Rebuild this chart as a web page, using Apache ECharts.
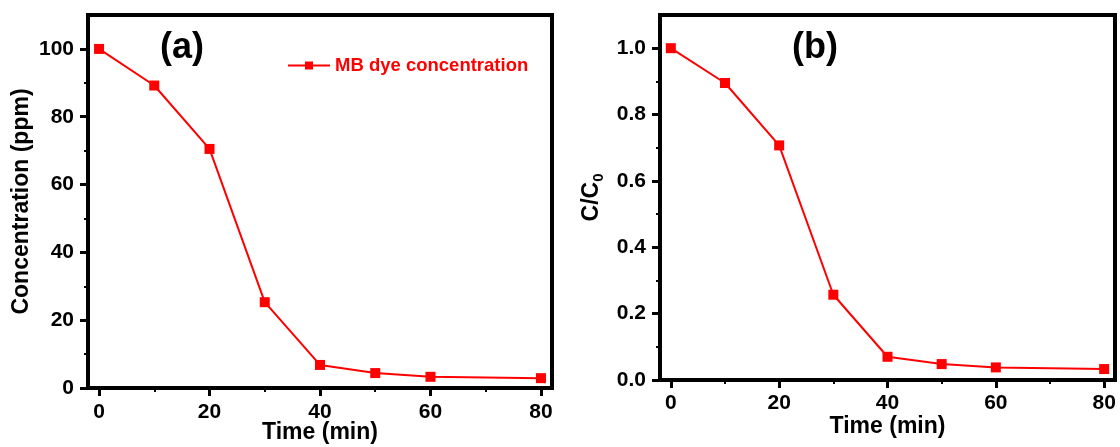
<!DOCTYPE html>
<html>
<head>
<meta charset="utf-8">
<script src="https://cdn.jsdelivr.net/npm/echarts@6/dist/echarts.min.js"></script>
<style>
html,body{margin:0;padding:0;background:#fff;}
#c{width:1120px;height:447px;}
</style>
</head>
<body>
<div id="c"></div>
<script>
// ---- data ----
const timeMin = [0, 10, 20, 30, 40, 50, 60, 80];
const concPpm = [100, 89.2, 70.5, 25.3, 6.8, 4.4, 3.3, 2.9];
const ratioCC0 = [1.0, 0.895, 0.707, 0.257, 0.070, 0.048, 0.038, 0.033];
const xTickVals = [0, 20, 40, 60, 80];
const xMinorVals = [10, 30, 50, 70];
const yTickValsA = [0, 20, 40, 60, 80, 100];
const yMinorValsA = [10, 30, 50, 70, 90];
const yTickValsB = [0, 0.2, 0.4, 0.6, 0.8, 1.0];
const yMinorValsB = [0.1, 0.3, 0.5, 0.7, 0.9];
const seriesName = 'MB dye concentration';

const FF = '"Liberation Sans", Arial, sans-serif';
const RED = '#ff0000';

function xMain(gi, margin, gap) {
  return {
    type: 'value', gridIndex: gi, min: -2, max: 82, position: 'bottom',
    axisLine: { show: true, onZero: false, lineStyle: { color: '#000', width: 4 } },
    axisTick: { show: true, customValues: xTickVals, length: 8, lineStyle: { color: '#000', width: 3 } },
    axisLabel: { customValues: xTickVals, margin: margin, fontSize: 21, fontWeight: 'bold', color: '#000', fontFamily: FF },
    splitLine: { show: false },
    name: 'Time (min)', nameLocation: 'middle', nameGap: gap, nameMoveOverlap: false,
    nameTextStyle: { fontSize: 23, fontWeight: 'bold', color: '#000', fontFamily: FF }
  };
}
function xMinor(gi) {
  return {
    type: 'value', gridIndex: gi, min: -2, max: 82, position: 'bottom',
    axisLine: { show: false, onZero: false },
    axisTick: { show: true, customValues: xMinorVals, length: 4, lineStyle: { color: '#000', width: 2 } },
    axisLabel: { show: false }, splitLine: { show: false }
  };
}
function yMain(gi, max, ticks, fmt, name, gap, rich) {
  const o = {
    type: 'value', gridIndex: gi, min: 0, max: max, position: 'left',
    axisLine: { show: true, onZero: false, lineStyle: { color: '#000', width: 4 } },
    axisTick: { show: true, customValues: ticks, length: 8, lineStyle: { color: '#000', width: 3 } },
    axisLabel: { customValues: ticks, margin: 14, fontSize: 21, fontWeight: 'bold', color: '#000', fontFamily: FF, formatter: fmt },
    splitLine: { show: false },
    name: name, nameLocation: 'middle', nameGap: gap,
    nameTextStyle: { fontSize: 23, fontWeight: 'bold', color: '#000', fontFamily: FF }
  };
  if (rich) o.nameTextStyle.rich = rich;
  return o;
}
function yMinor(gi, max, vals) {
  return {
    type: 'value', gridIndex: gi, min: 0, max: max, position: 'left',
    axisLine: { show: false, onZero: false },
    axisTick: { show: true, customValues: vals, length: 4, lineStyle: { color: '#000', width: 2 } },
    axisLabel: { show: false }, splitLine: { show: false }
  };
}

const dataA = timeMin.map((t, i) => [t, concPpm[i]]);
const dataB = timeMin.map((t, i) => [t, ratioCC0[i]]);

const lineSeries = (name, xi, yi, data) => ({
  name: name, type: 'line', xAxisIndex: xi, yAxisIndex: yi, data: data,
  symbol: 'rect', symbolSize: 10, color: RED,
  lineStyle: { color: RED, width: 2 }, itemStyle: { color: RED },
  animation: false
});

const option = {
  backgroundColor: '#fff',
  animation: false,
  title: [
    { text: '(a)', left: 155, top: 25, textStyle: { fontSize: 36, fontWeight: 'bold', color: '#000', fontFamily: FF } },
    { text: '(b)', left: 787, top: 25, textStyle: { fontSize: 36, fontWeight: 'bold', color: '#000', fontFamily: FF } }
  ],
  legend: {
    data: [seriesName], left: 282, top: 51, itemWidth: 42, itemHeight: 10, itemGap: 4,
    textStyle: { color: RED, fontSize: 18.5, fontWeight: 'bold', fontFamily: FF }
  },
  grid: [
    { left: 88, top: 15, width: 464, height: 373, show: true, borderColor: '#000', borderWidth: 4, backgroundColor: 'transparent', containLabel: false, outerBoundsMode: 'none' },
    { left: 660, top: 15, width: 455, height: 365, show: true, borderColor: '#000', borderWidth: 4, backgroundColor: 'transparent', containLabel: false, outerBoundsMode: 'none' }
  ],
  xAxis: [xMain(0, 14, 33), xMain(1, 13, 35), xMinor(0), xMinor(1)],
  yAxis: [
    yMain(0, 110, yTickValsA, v => String(v), 'Concentration (ppm)', 55),
    yMain(1, 1.1, yTickValsB, v => v.toFixed(1), '{n|C/C}{s|0}', 54, {
      n: { fontSize: 23, fontWeight: 'bold', color: '#000', fontFamily: FF, lineHeight: 28 },
      s: { fontSize: 15, fontWeight: 'bold', color: '#000', fontFamily: FF, lineHeight: 28, verticalAlign: 'bottom', padding: [8, 0, 0, 0] }
    }),
    yMinor(0, 110, yMinorValsA),
    yMinor(1, 1.1, yMinorValsB)
  ],
  series: [
    lineSeries(seriesName, 0, 0, dataA),
    lineSeries('C/C0', 1, 1, dataB)
  ]
};

const chart = echarts.init(document.getElementById('c'), null, { renderer: 'canvas' });
chart.setOption(option);
</script>
</body>
</html>
